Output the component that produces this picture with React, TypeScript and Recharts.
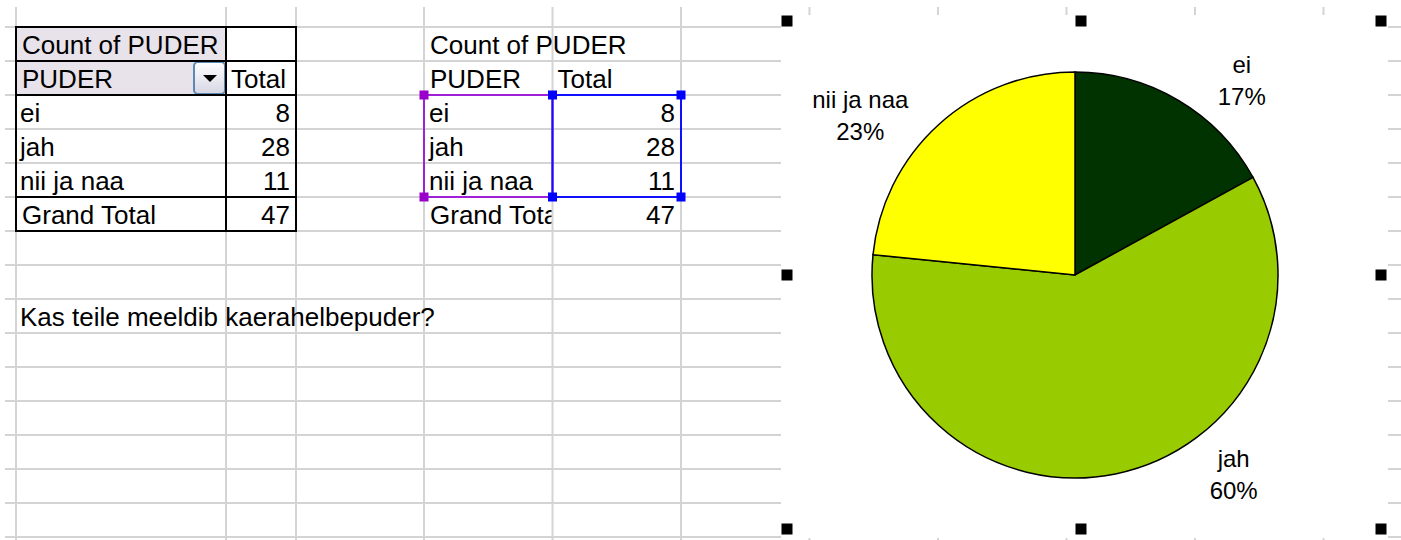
import React from 'react';
import { PieChart, Pie, Cell } from 'recharts';

// ---- data ----
const categories = ['ei', 'jah', 'nii ja naa'];
const counts = [8, 28, 11];
const sliceColors = ['#003300', '#99CC00', '#FFFF00'];
const pivotTitle = 'Count of PUDER';
const fieldName = 'PUDER';
const totalHeader = 'Total';
const grandTotalLabel = 'Grand Total';
const question = 'Kas teile meeldib kaerahelbepuder?';

const pieData = categories.map((name, i) => ({ name, value: counts[i] }));
const grandTotal = counts.reduce((a, b) => a + b, 0);

// ---- layout ----
const W = 1401;
const H = 540;
const COLS = [16, 226, 296, 424, 552.5, 681, 809.5, 938, 1066.5, 1195, 1323.5];
const ROWS = [27, 61, 95, 129, 163, 197, 231, 265, 299, 333, 367, 401, 435, 469, 503, 537];
const FONT = "'Liberation Sans', Arial, Helvetica, sans-serif";
const GRID = '#D4D4D4';
const LAV = '#E8E2EA';
const CELL_FS = 26;
const BASE = 27; // baseline offset within a row

const CHART_BOX = { left: 781, top: 15, width: 607, height: 523 };
const FRAME = { x0: 787, y0: 21, x1: 1381, y1: 529 };
const PIE_CX = 294;
const PIE_CY = 260;
const PIE_R = 203;

const RAD = Math.PI / 180;
const LABEL_GAP = 53;
const LABEL_NUDGE = [
  { da: -10, dr: 0 },
  { da: 27, dr: -1 },
  { da: 11.4, dr: 11 },
];

const renderLabel = (props: any) => {
  const { cx, cy, midAngle, outerRadius, percent, name, index } = props;
  const n = LABEL_NUDGE[index] || { da: 0, dr: 0 };
  const a = (midAngle + n.da) * RAD;
  const r = outerRadius + LABEL_GAP + n.dr;
  const x = cx + r * Math.cos(a);
  const y = cy - r * Math.sin(a);
  return (
    <text x={x} y={y} textAnchor="middle" fontFamily={FONT} fontSize={24} fill="#000">
      <tspan x={x} y={y - 8}>{name}</tspan>
      <tspan x={x} y={y + 24}>{`${Math.round(percent * 100)}%`}</tspan>
    </text>
  );
};

const Handle = ({ x, y, size, fill }: { x: number; y: number; size: number; fill: string }) => (
  <rect x={x - size / 2} y={y - size / 2} width={size} height={size} fill={fill} />
);

const Sheet = () => {
  const A0 = COLS[0], A1 = COLS[1], B1 = COLS[2];
  const D0 = COLS[3], D1 = COLS[4], E1 = COLS[5];
  const r = (i: number) => ROWS[i];
  return (
    <svg width={W} height={H} style={{ position: 'absolute', left: 0, top: 0 }}>
      <rect x={0} y={0} width={W} height={H} fill="#fff" />
      {COLS.map((x) => (
        <line key={'c' + x} x1={x} y1={7} x2={x} y2={H} stroke={GRID} strokeWidth={2} />
      ))}
      {ROWS.map((y) => (
        <line key={'r' + y} x1={5} y1={y} x2={W} y2={y} stroke={GRID} strokeWidth={2} />
      ))}

      {/* left pivot table */}
      <rect x={A0} y={r(0)} width={A1 - A0} height={r(2) - r(0)} fill={LAV} />
      <defs>
        <linearGradient id="btn" x1="0" y1="0" x2="0" y2="1">
          <stop offset="0" stopColor="#FFFFFF" />
          <stop offset="1" stopColor="#D6D6E4" />
        </linearGradient>
        <clipPath id="clipD">
          <rect x={D0} y={0} width={D1 - D0 - 1} height={H} />
        </clipPath>
      </defs>
      <rect x={A1 - 32} y={r(1) + 1} width={31} height={32} rx={4} fill="url(#btn)" stroke="#5B88B5" strokeWidth={2} />
      <path d={`M ${A1 - 23} ${r(1) + 14} L ${A1 - 9} ${r(1) + 14} L ${A1 - 16} ${r(1) + 21} Z`} fill="#000" />

      <g stroke="#000" strokeWidth={2} fill="none">
        <rect x={A0} y={r(0)} width={B1 - A0} height={r(6) - r(0)} />
        <line x1={A1} y1={r(0)} x2={A1} y2={r(6)} />
        <line x1={A0} y1={r(1)} x2={B1} y2={r(1)} />
        <line x1={A0} y1={r(2)} x2={B1} y2={r(2)} />
        <line x1={A0} y1={r(5)} x2={B1} y2={r(5)} />
      </g>

      <g fontFamily={FONT} fontSize={CELL_FS} fill="#000">
        <text x={A0 + 6} y={r(0) + BASE}>{pivotTitle}</text>
        <text x={A0 + 6} y={r(1) + BASE}>{fieldName}</text>
        <text x={A1 + 5} y={r(1) + BASE}>{totalHeader}</text>
        {categories.map((c, i) => (
          <g key={'l' + c}>
            <text x={A0 + 4} y={r(2 + i) + BASE}>{c}</text>
            <text x={B1 - 6} y={r(2 + i) + BASE} textAnchor="end">{counts[i]}</text>
          </g>
        ))}
        <text x={A0 + 6} y={r(5) + BASE}>{grandTotalLabel}</text>
        <text x={B1 - 6} y={r(5) + BASE} textAnchor="end">{grandTotal}</text>

        {/* right plain table */}
        <text x={D0 + 6} y={r(0) + BASE}>{pivotTitle}</text>
        <text x={D0 + 6} y={r(1) + BASE}>{fieldName}</text>
        <text x={D1 + 5} y={r(1) + BASE}>{totalHeader}</text>
        {categories.map((c, i) => (
          <g key={'rt' + c}>
            <text x={D0 + 5} y={r(2 + i) + BASE}>{c}</text>
            <text x={E1 - 6} y={r(2 + i) + BASE} textAnchor="end">{counts[i]}</text>
          </g>
        ))}
        <text x={D0 + 6} y={r(5) + BASE} clipPath="url(#clipD)">{grandTotalLabel}</text>
        <text x={E1 - 6} y={r(5) + BASE} textAnchor="end">{grandTotal}</text>

        <text x={A0 + 4} y={r(8) + BASE}>{question}</text>
      </g>

      {/* range selection highlights */}
      <rect x={D0} y={r(2)} width={D1 - D0} height={r(5) - r(2)} fill="none" stroke="#A020D8" strokeWidth={2} />
      <rect x={D1} y={r(2)} width={E1 - D1} height={r(5) - r(2)} fill="none" stroke="#1010FF" strokeWidth={2} />
      <Handle x={D0} y={r(2)} size={9} fill="#9900CC" />
      <Handle x={D0} y={r(5)} size={9} fill="#9900CC" />
      <Handle x={D1} y={r(2)} size={9} fill="#0000FF" />
      <Handle x={D1} y={r(5)} size={9} fill="#0000FF" />
      <Handle x={E1} y={r(2)} size={9} fill="#0000FF" />
      <Handle x={E1} y={r(5)} size={9} fill="#0000FF" />
    </svg>
  );
};

const Handles = () => {
  const { x0, y0, x1, y1 } = FRAME;
  const xm = (x0 + x1) / 2 - 3;
  const ym = (y0 + y1) / 2;
  const pts = [
    [x0, y0], [xm, y0], [x1, y0],
    [x0, ym], [x1, ym],
    [x0, y1], [xm, y1], [x1, y1],
  ];
  return (
    <svg width={W} height={H} style={{ position: 'absolute', left: 0, top: 0, pointerEvents: 'none' }}>
      {pts.map(([x, y], i) => (
        <Handle key={i} x={x} y={y} size={11} fill="#000" />
      ))}
    </svg>
  );
};

export default function App() {
  return (
    <div style={{ position: 'absolute', left: 0, top: 0, width: W, height: H, overflow: 'hidden', background: '#fff' }}>
      <Sheet />
      <div
        style={{
          position: 'absolute',
          left: CHART_BOX.left,
          top: CHART_BOX.top,
          width: CHART_BOX.width,
          height: CHART_BOX.height,
          background: '#fff',
        }}
      >
        <PieChart width={CHART_BOX.width} height={CHART_BOX.height} margin={{ top: 0, right: 0, bottom: 0, left: 0 }}>
          <Pie
            data={pieData}
            dataKey="value"
            nameKey="name"
            cx={PIE_CX}
            cy={PIE_CY}
            outerRadius={PIE_R}
            startAngle={90}
            endAngle={-270}
            stroke="#000"
            strokeWidth={1.5}
            label={renderLabel}
            labelLine={false}
            isAnimationActive={false}
          >
            {pieData.map((d, i) => (
              <Cell key={d.name} fill={sliceColors[i]} stroke="#000" strokeWidth={1.5} />
            ))}
          </Pie>
        </PieChart>
      </div>
      <Handles />
    </div>
  );
}
